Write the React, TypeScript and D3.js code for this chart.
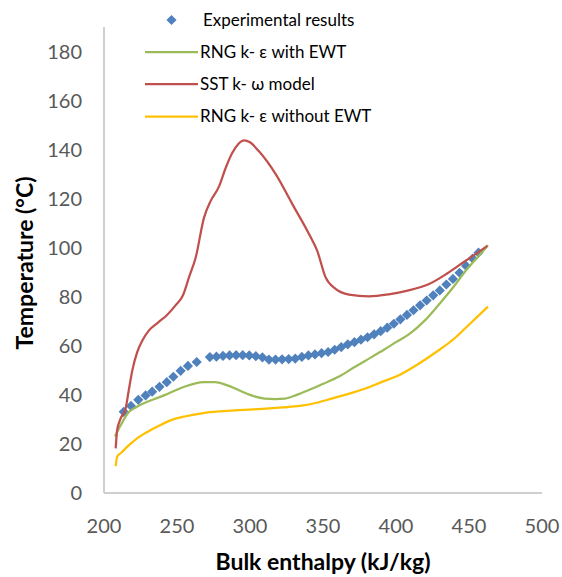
import React from 'react';
import * as d3 from 'd3';

// Experimental results (markers)
const expX = [213.5, 218.5, 223.5, 228.5, 233, 238, 243, 247.5, 252.5, 257.5, 263.5, 272.5, 277, 281.5, 286, 290.5, 295, 299.5, 304, 308.5, 313, 317.5, 322, 326.5, 331, 335.5, 340, 344.5, 349, 353.5, 358, 362.5, 367, 371.5, 376, 380.5, 385, 389.5, 394, 398.5, 403, 407.5, 412, 416.5, 421, 425.5, 430, 434.5, 439, 443.5, 448, 452.5, 456.5];
const expY = [33.1, 35.5, 38, 39.8, 41.3, 43.3, 45.2, 47.4, 49.8, 51.8, 53.4, 55.4, 55.6, 55.9, 56.1, 56.2, 56.2, 56.1, 55.8, 55.3, 54.4, 54.4, 54.5, 54.6, 54.8, 55.5, 56.1, 56.5, 57, 57.5, 58.4, 59.5, 60.6, 61.5, 62.5, 63.5, 64.7, 66, 67.4, 69, 70.8, 72.6, 74.5, 76.5, 78.5, 80.6, 82.6, 85, 87.3, 89.8, 92.6, 95.6, 98];

// RNG k-e with EWT
const rngEwtX = [207.5, 211.5, 217, 222, 227, 234, 241, 248, 255, 262, 268.5, 276, 284, 292.5, 300, 310, 317, 324, 332, 340, 350, 361, 372, 383, 392, 400, 409, 420, 430, 440, 448, 456, 463];
const rngEwtY = [23, 27.7, 33, 35, 36.5, 38.2, 39.8, 41.6, 43.3, 44.6, 45.2, 45.2, 44, 41.9, 40, 38.5, 38.3, 38.5, 40, 41.9, 44.5, 47.5, 51.5, 55.3, 58.5, 61.5, 64.8, 70.5, 77.3, 84.5, 90.8, 96.2, 101];

// SST k-w model
const sstX = [208, 209, 211.4, 214.8, 217, 219.4, 222.8, 226.3, 230.8, 237, 243, 249, 254, 258.2, 262.8, 268.5, 273, 278.8, 283, 287.9, 292, 295.9, 300, 306, 317.6, 329, 340.4, 346, 351.8, 358.6, 367.8, 381.5, 395, 408, 422.6, 435, 447.7, 454.5, 462.6];
const sstY = [18.2, 25.6, 30.4, 34.4, 42, 50, 57.5, 62.2, 66.3, 69.5, 72.5, 76.5, 80.5, 87.9, 96, 112.3, 119, 125, 132, 138.7, 142.3, 143.8, 143, 139.4, 130, 117.8, 105.6, 98.8, 87.9, 83.2, 80.9, 80.2, 81, 82.5, 85.2, 89.5, 94.7, 97.4, 100.8];

// RNG k-e without EWT
const rngNoX = [208, 209, 212, 216, 222, 230, 238, 246, 256, 268, 280, 290, 300, 311, 322, 334, 345, 356, 368, 379, 390, 402, 415, 430, 440, 448, 456, 463];
const rngNoY = [11, 14.8, 16.5, 18.9, 22, 25, 27.5, 29.7, 31.3, 32.6, 33.3, 33.7, 34, 34.4, 34.9, 35.5, 36.7, 38.5, 40.5, 42.6, 45.2, 48, 52.5, 58.5, 63, 67.5, 72, 76];

const xTicks = [200, 250, 300, 350, 400, 450, 500];
const yTicks = [0, 20, 40, 60, 80, 100, 120, 140, 160, 180];

const seriesNames = ['Experimental results', 'RNG k- \u03b5 with EWT', 'SST k- \u03c9 model', 'RNG k- \u03b5 without EWT'];
const colors = ['#4F81BD', '#9BBB59', '#C0504D', '#FFC000'];

const W = 562;
const H = 577;
const font = 'Lato, Calibri, "Open Sans", sans-serif';

export default function App() {
  const x = d3.scaleLinear().domain([200, 500]).range([104, 542]);
  const y = d3.scaleLinear().domain([0, 190]).range([493, 27]);

  const line = d3
    .line<[number, number]>()
    .x(d => x(d[0]))
    .y(d => y(d[1]))
    .curve(d3.curveMonotoneX);

  const zip = (xs: number[], ys: number[]) => xs.map((v, i) => [v, ys[i]] as [number, number]);
  const lines = [
    { pts: zip(rngEwtX, rngEwtY), color: colors[1] },
    { pts: zip(sstX, sstY), color: colors[2] },
    { pts: zip(rngNoX, rngNoY), color: colors[3] },
  ];

  const diamond = d3.symbol().type(d3.symbolDiamond2).size(66)();

  const legendRows = [20, 52, 84, 116.5];

  return (
    <svg width={W} height={H} style={{ position: 'absolute', left: 0, top: 0, background: '#fff' }} fontFamily={font}>
      {/* axes */}
      <line x1={104} x2={104} y1={y(190)} y2={y(0)} stroke="#BFBFBF" strokeWidth={1.5} />
      <line x1={104} x2={542} y1={y(0)} y2={y(0)} stroke="#BFBFBF" strokeWidth={1.5} />

      {yTicks.map(t => (
        <text key={t} x={82} y={y(t)} dy="0.36em" textAnchor="end" fontSize={20} fill="#595959">
          {t}
        </text>
      ))}
      {xTicks.map(t => (
        <text key={t} x={x(t)} y={533} textAnchor="middle" fontSize={20} fill="#595959">
          {t}
        </text>
      ))}

      <text x={323} y={570} textAnchor="middle" fontSize={23} fontWeight="bold" fill="#000">
        Bulk enthalpy (kJ/kg)
      </text>
      <text transform={`translate(33,${(y(0) + y(190)) / 2 + 3}) rotate(-90)`} textAnchor="middle" fontSize={23} fontWeight="bold" fill="#000">
        Temperature (°C)
      </text>

      {/* experimental markers */}
      {expX.map((v, i) => (
        <path key={i} d={diamond as string} transform={`translate(${x(v)},${y(expY[i])})`} fill={colors[0]} />
      ))}

      {lines.map((l, i) => (
        <path key={i} d={line(l.pts) as string} fill="none" stroke={l.color} strokeWidth={2.25} strokeLinejoin="round" />
      ))}

      {/* legend */}
      <g>
        <path d={diamond as string} transform={`translate(171.5,${legendRows[0]})`} fill={colors[0]} />
        {[1, 2, 3].map(i => (
          <line key={i} x1={145} x2={198} y1={legendRows[i]} y2={legendRows[i]} stroke={colors[i]} strokeWidth={2.25} />
        ))}
        {seriesNames.map((n, i) => (
          <text key={n} x={i === 0 ? 203 : 200} y={legendRows[i]} dy="0.35em" fontSize={17} fill="#000">
            {n}
          </text>
        ))}
      </g>
    </svg>
  );
}
